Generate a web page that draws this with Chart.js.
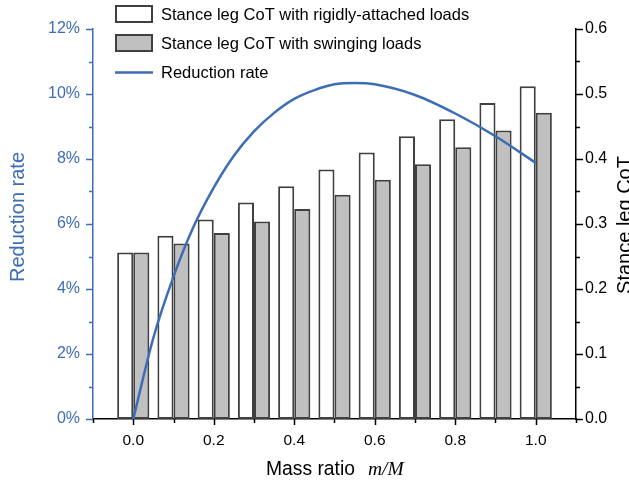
<!DOCTYPE html>
<html>
<head>
<meta charset="utf-8">
<script src="https://cdn.jsdelivr.net/npm/chart.js@4/dist/chart.umd.min.js"></script>
<style>
  body { margin: 0; background: #fff; }
  #wrap { width: 629px; height: 481px; position: relative; }
</style>
</head>
<body>
<div id="wrap"><canvas id="chart"></canvas></div>
<script>
// Data
const massRatio = [0.0, 0.1, 0.2, 0.3, 0.4, 0.5, 0.6, 0.7, 0.8, 0.9, 1.0];
const rigidCoT = [0.256, 0.282, 0.307, 0.333, 0.358, 0.384, 0.410, 0.435, 0.461, 0.486, 0.512];
const swingCoT = [0.256, 0.270, 0.286, 0.304, 0.323, 0.345, 0.368, 0.392, 0.418, 0.444, 0.471];

// reduction rate curve (%), read at a few more places along x
const curveX = [0, 0.05, 0.1, 0.15, 0.2, 0.25, 0.3, 0.35, 0.4, 0.45, 0.5, 0.55, 0.6, 0.7, 0.8, 0.9, 1.0];
const reductionRate = [0, 2.5, 4.38, 5.92, 7.12, 8.1, 8.85, 9.42, 9.85, 10.12, 10.3, 10.34, 10.3, 9.97, 9.4, 8.7, 7.88];

const legendLabels = [
    "Stance leg CoT with rigidly-attached loads",
    "Stance leg CoT with swinging loads",
    "Reduction rate"
];

const BLUE = "#3d6db5";
const EDGE = "#404040";
const GRAY = "#c0c0c0";
const SANS = "'Liberation Sans', Arial, sans-serif";

function pairs(xs, ys) {
    return xs.map((x, i) => ({ x: x, y: ys[i] }));
}

// minor/major tick marks drawn by hand (Chart.js has one tick length only)
const tickMarks = {
    id: "tickMarks",
    afterDraw(chart) {
        const ctx = chart.ctx;
        const { x, y, y1 } = chart.scales;
        ctx.save();
        ctx.lineWidth = 1.5;

        ctx.strokeStyle = "#000";
        for (let i = -1; i <= 11; i++) {
            const px = Math.round(x.getPixelForValue(i / 10)) + 0.5;
            const len = i % 2 === 0 ? 6 : 4;
            ctx.beginPath();
            ctx.moveTo(px, x.top);
            ctx.lineTo(px, x.top + len);
            ctx.stroke();
        }

        ctx.strokeStyle = BLUE;
        for (let i = 0; i <= 12; i++) {
            const py = Math.round(y.getPixelForValue(i)) + 0.5;
            const len = i % 2 === 0 ? 7 : 4;
            ctx.beginPath();
            ctx.moveTo(y.right, py);
            ctx.lineTo(y.right - len, py);
            ctx.stroke();
        }

        ctx.strokeStyle = "#000";
        for (let i = 0; i <= 12; i++) {
            const py = Math.round(y1.getPixelForValue(i * 0.05)) + 0.5;
            const len = i % 2 === 0 ? 7 : 4;
            ctx.beginPath();
            ctx.moveTo(y1.left, py);
            ctx.lineTo(y1.left + len, py);
            ctx.stroke();
        }
        ctx.restore();
    }
};

// legend, axis titles
const decorations = {
    id: "decorations",
    afterDraw(chart) {
        const ctx = chart.ctx;
        ctx.save();

        // legend
        ctx.lineWidth = 2;
        ctx.strokeStyle = EDGE;
        ctx.fillStyle = "#fff";
        ctx.fillRect(116, 6, 36, 16);
        ctx.strokeRect(116, 6, 36, 16);
        ctx.fillStyle = GRAY;
        ctx.fillRect(116, 35, 36, 16);
        ctx.strokeRect(116, 35, 36, 16);
        ctx.strokeStyle = BLUE;
        ctx.lineWidth = 2.5;
        ctx.beginPath();
        ctx.moveTo(115, 72.5);
        ctx.lineTo(153, 72.5);
        ctx.stroke();

        ctx.fillStyle = "#000";
        ctx.font = "16.5px " + SANS;
        ctx.textBaseline = "middle";
        ctx.textAlign = "left";
        ctx.fillText(legendLabels[0], 161, 15);
        ctx.fillText(legendLabels[1], 161, 44);
        ctx.fillText(legendLabels[2], 161, 73);

        // x title: "Mass ratio  m/M"
        ctx.textBaseline = "alphabetic";
        ctx.font = "19.3px " + SANS;
        ctx.fillText("Mass ratio", 266, 475);
        ctx.font = "italic 19.5px 'Liberation Serif', 'Times New Roman', serif";
        ctx.fillText("m/M", 368, 475);

        // left title
        ctx.font = "20px " + SANS;
        ctx.fillStyle = BLUE;
        ctx.textAlign = "center";
        ctx.textBaseline = "top";
        ctx.translate(8, 217);
        ctx.rotate(-Math.PI / 2);
        ctx.fillText("Reduction rate", 0, 0);
        ctx.setTransform(1, 0, 0, 1, 0, 0);

        // right title (runs off the canvas edge as in the figure)
        ctx.fillStyle = "#000";
        ctx.translate(615, 225);
        ctx.rotate(-Math.PI / 2);
        ctx.fillText("Stance leg CoT", 0, 0);
        ctx.restore();
    }
};

new Chart(document.getElementById("chart"), {
    type: "bar",
    data: {
        datasets: [
            {
                type: "line",
                label: legendLabels[2],
                data: pairs(curveX, reductionRate),
                yAxisID: "y",
                borderColor: BLUE,
                borderWidth: 2.5,
                pointRadius: 0,
                cubicInterpolationMode: "monotone",
                fill: false,
                order: 0
            },
            {
                label: legendLabels[0],
                data: pairs(massRatio, rigidCoT),
                yAxisID: "y1",
                backgroundColor: "#fff",
                borderColor: EDGE,
                borderWidth: 2,
                borderSkipped: false,
                categoryPercentage: 0.8,
                barPercentage: 1.0,
                order: 1
            },
            {
                label: legendLabels[1],
                data: pairs(massRatio, swingCoT),
                yAxisID: "y1",
                backgroundColor: GRAY,
                borderColor: EDGE,
                borderWidth: 2,
                borderSkipped: false,
                categoryPercentage: 0.8,
                barPercentage: 1.0,
                order: 2
            }
        ]
    },
    options: {
        responsive: true,
        maintainAspectRatio: false,
        animation: false,
        layout: { padding: { top: 29, left: 0, right: 0, bottom: 0 } },
        plugins: {
            legend: { display: false },
            tooltip: { enabled: false }
        },
        scales: {
            x: {
                type: "linear",
                min: -0.1,
                max: 1.1,
                offset: false,
                grid: { display: false, drawTicks: false },
                border: { display: true, color: "#000", width: 1.5 },
                ticks: {
                    stepSize: 0.1,
                    autoSkip: false,
                    maxRotation: 0,
                    padding: 12,
                    color: "#000",
                    font: { family: SANS, size: 15.5 },
                    callback: (v) => {
                        const k = Math.round(v * 10);
                        return (k % 2 === 0 && k >= 0 && k <= 10) ? (k / 10).toFixed(1) : "";
                    }
                },
                afterFit: (s) => { s.height = 62; }
            },
            y: {
                position: "left",
                min: 0,
                max: 12,
                grid: { display: false, drawTicks: false },
                border: { display: true, color: BLUE, width: 1.5 },
                ticks: {
                    stepSize: 1,
                    autoSkip: false,
                    padding: 13,
                    color: BLUE,
                    font: { family: SANS, size: 16 },
                    callback: (v) => (Math.round(v) % 2 === 0 ? Math.round(v) + "%" : "")
                },
                afterFit: (s) => { s.width = 93; }
            },
            y1: {
                position: "right",
                min: 0,
                max: 0.6,
                grid: { display: false, drawTicks: false },
                border: { display: true, color: "#000", width: 1.5 },
                ticks: {
                    stepSize: 0.05,
                    autoSkip: false,
                    padding: 9,
                    color: "#000",
                    font: { family: SANS, size: 16 },
                    callback: (v) => {
                        const k = Math.round(v * 20);
                        return k % 2 === 0 ? (k / 20).toFixed(1) : "";
                    }
                },
                afterFit: (s) => { s.width = 53; }
            }
        }
    },
    plugins: [tickMarks, decorations]
});
</script>
</body>
</html>
